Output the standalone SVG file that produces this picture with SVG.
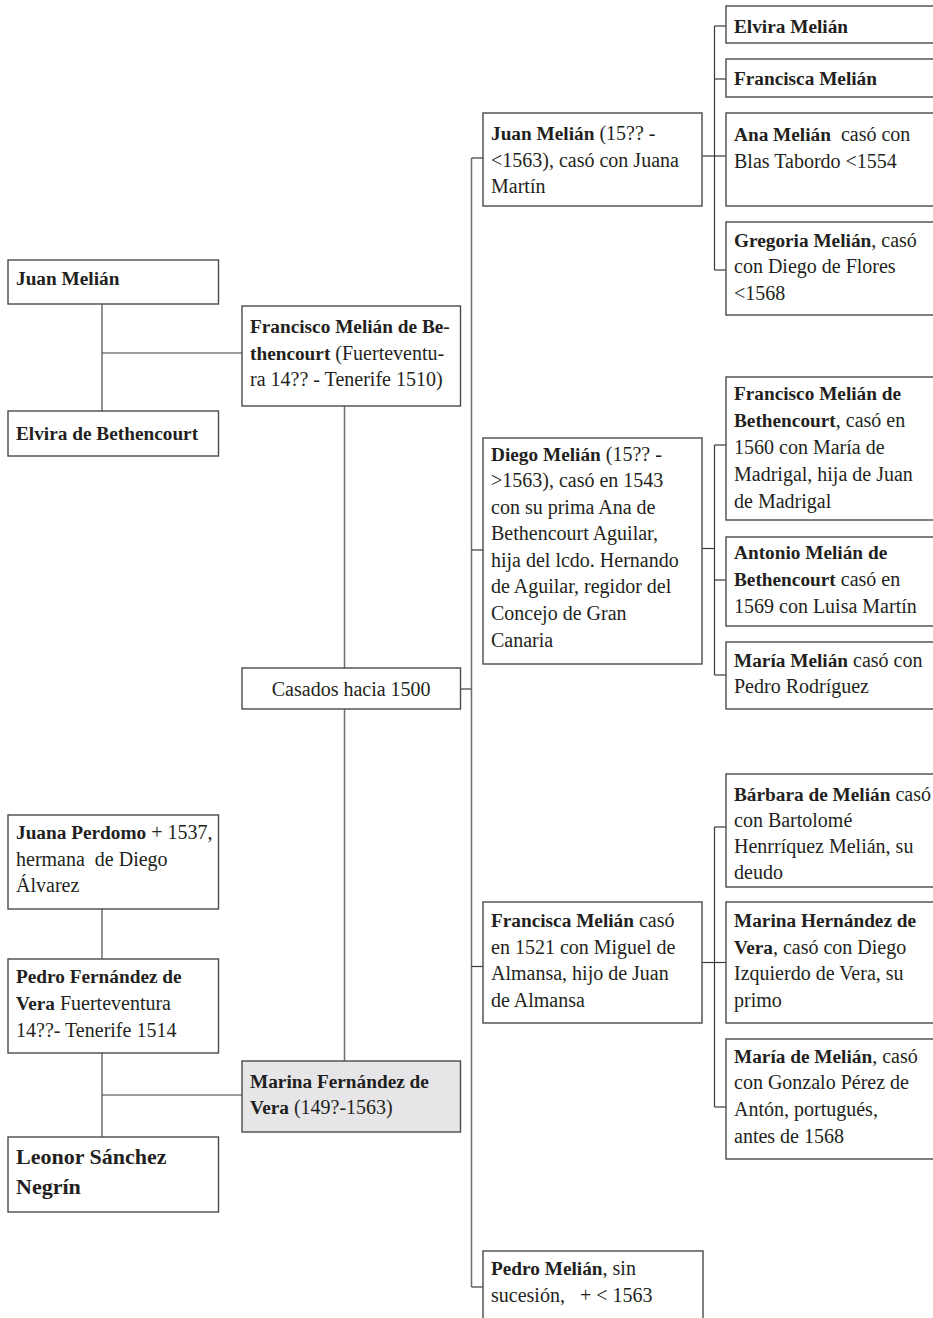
<svg xmlns="http://www.w3.org/2000/svg" width="933" height="1318" viewBox="0 0 933 1318">
<style>
text{font-family:"Liberation Serif","Times New Roman",serif;font-size:20px;fill:#231f20}
.b{font-weight:bold;font-size:19.3px}
.box{fill:#fff;stroke:#4a4a4a;stroke-width:1.4}
.grey{fill:#e6e6e8}
.v{stroke:#6e6e6e;stroke-width:1.5;fill:none}
.h{stroke:#3a3a3a;stroke-width:1.2;fill:none}
.pre{white-space:pre}
</style>
<g id="connectors">
<line class="v" x1="102" y1="304" x2="102" y2="411"/>
<line class="h" x1="102" y1="353" x2="242" y2="353"/>
<line class="v" x1="102" y1="909" x2="102" y2="959"/>
<line class="v" x1="102" y1="1053" x2="102" y2="1137"/>
<line class="h" x1="102" y1="1095" x2="242" y2="1095"/>
<line class="v" x1="344.5" y1="406" x2="344.5" y2="668"/>
<line class="v" x1="344.5" y1="709" x2="344.5" y2="1061"/>
<line class="h" x1="460.5" y1="689" x2="471.5" y2="689"/>
<line class="v" x1="471.5" y1="158" x2="471.5" y2="1287"/>
<line class="h" x1="471.5" y1="158" x2="483" y2="158"/>
<line class="h" x1="471.5" y1="550" x2="483" y2="550"/>
<line class="h" x1="471.5" y1="966.5" x2="483" y2="966.5"/>
<line class="h" x1="471.5" y1="1287" x2="483" y2="1287"/>
<line class="h" x1="714.5" y1="26" x2="714.5" y2="270"/>
<line class="h" x1="714.5" y1="26" x2="726" y2="26"/>
<line class="h" x1="714.5" y1="79" x2="726" y2="79"/>
<line class="h" x1="702" y1="156" x2="726" y2="156"/>
<line class="h" x1="714.5" y1="270" x2="726" y2="270"/>
<line class="h" x1="714.5" y1="445" x2="714.5" y2="675"/>
<line class="h" x1="714.5" y1="445" x2="726" y2="445"/>
<line class="h" x1="702" y1="548.5" x2="714.5" y2="548.5"/>
<line class="h" x1="714.5" y1="580" x2="726" y2="580"/>
<line class="h" x1="714.5" y1="675" x2="726" y2="675"/>
<line class="h" x1="714.5" y1="827" x2="714.5" y2="1107"/>
<line class="h" x1="714.5" y1="827" x2="726" y2="827"/>
<line class="h" x1="702" y1="962.5" x2="726" y2="962.5"/>
<line class="h" x1="714.5" y1="1107" x2="726" y2="1107"/>
</g>

<g id="n-juan-melian">
<rect class="box" x="8" y="260" width="210.5" height="44"/>
<text x="16" y="285"><tspan class="b">Juan Melián</tspan></text>
</g>
<g id="n-elvira-bethencourt">
<rect class="box" x="8" y="411" width="210.5" height="45"/>
<text x="16" y="440"><tspan class="b">Elvira de Bethencourt</tspan></text>
</g>
<g id="n-francisco-melian">
<rect class="box" x="242" y="306" width="218.5" height="100"/>
<text x="250" y="333"><tspan class="b">Francisco Melián de Be-</tspan></text>
<text x="250" y="360"><tspan class="b">thencourt</tspan> (Fuerteventu-</text>
<text x="250" y="386">ra 14?? - Tenerife 1510)</text>
</g>
<g id="n-casados">
<rect class="box" x="242" y="668" width="218.5" height="41"/>
<text x="351.2" y="696" text-anchor="middle">Casados hacia 1500</text>
</g>
<g id="n-juana-perdomo">
<rect class="box" x="8" y="815" width="210.5" height="94"/>
<text x="16" y="839"><tspan class="b">Juana Perdomo</tspan> + 1537,</text>
<text x="16" y="866" class="pre">hermana  de Diego</text>
<text x="16" y="892">Álvarez</text>
</g>
<g id="n-pedro-fernandez">
<rect class="box" x="8" y="959" width="210.5" height="94"/>
<text x="16" y="983"><tspan class="b">Pedro Fernández de</tspan></text>
<text x="16" y="1010"><tspan class="b">Vera</tspan> Fuerteventura</text>
<text x="16" y="1037">14??- Tenerife 1514</text>
</g>
<g id="n-marina-fernandez">
<rect class="box grey" x="242" y="1061" width="218.5" height="71"/>
<text x="250" y="1088"><tspan class="b">Marina Fernández de</tspan></text>
<text x="250" y="1114"><tspan class="b">Vera</tspan> (149?-1563)</text>
</g>
<g id="n-leonor">
<rect class="box" x="8" y="1137" width="210.5" height="75"/>
<text x="16" y="1164" style="font-weight:bold;font-size:22px">Leonor Sánchez</text>
<text x="16" y="1194" style="font-weight:bold;font-size:22px">Negrín</text>
</g>

<g id="n-juan-melian-hijo">
<rect class="box" x="483" y="113" width="219" height="93"/>
<text x="491" y="140"><tspan class="b">Juan Melián</tspan> (15?? -</text>
<text x="491" y="167">&lt;1563), casó con Juana</text>
<text x="491" y="193">Martín</text>
</g>
<g id="n-diego-melian">
<rect class="box" x="483" y="438" width="219" height="226"/>
<text x="491" y="461"><tspan class="b">Diego Melián</tspan> (15?? -</text>
<text x="491" y="487">&gt;1563), casó en 1543</text>
<text x="491" y="514">con su prima Ana de</text>
<text x="491" y="540">Bethencourt Aguilar,</text>
<text x="491" y="567">hija del lcdo. Hernando</text>
<text x="491" y="593">de Aguilar, regidor del</text>
<text x="491" y="620">Concejo de Gran</text>
<text x="491" y="647">Canaria</text>
</g>
<g id="n-francisca-melian">
<rect class="box" x="483" y="902" width="219" height="121"/>
<text x="491" y="927"><tspan class="b">Francisca Melián</tspan> casó</text>
<text x="491" y="954">en 1521 con Miguel de</text>
<text x="491" y="980">Almansa, hijo de Juan</text>
<text x="491" y="1007">de Almansa</text>
</g>
<g id="n-pedro-melian">
<rect class="box" x="483" y="1251" width="220" height="90"/>
<text x="491" y="1275"><tspan class="b">Pedro Melián</tspan>, sin</text>
<text x="491" y="1302" class="pre">sucesión,   + &lt; 1563</text>
</g>

<g id="n-elvira-melian">
<rect class="box" x="726" y="6" width="230" height="37"/>
<text x="734" y="33"><tspan class="b">Elvira Melián</tspan></text>
</g>
<g id="n-francisca-melian-2">
<rect class="box" x="726" y="59" width="230" height="38"/>
<text x="734" y="85"><tspan class="b">Francisca Melián</tspan></text>
</g>
<g id="n-ana-melian">
<rect class="box" x="726" y="113" width="230" height="93"/>
<text x="734" y="141" class="pre"><tspan class="b">Ana Melián</tspan>  casó con</text>
<text x="734" y="168">Blas Tabordo &lt;1554</text>
</g>
<g id="n-gregoria-melian">
<rect class="box" x="726" y="222" width="230" height="93"/>
<text x="734" y="247"><tspan class="b">Gregoria Melián</tspan>, casó</text>
<text x="734" y="273">con Diego de Flores</text>
<text x="734" y="300">&lt;1568</text>
</g>
<g id="n-francisco-melian-2">
<rect class="box" x="726" y="377" width="230" height="143"/>
<text x="734" y="400"><tspan class="b">Francisco Melián de</tspan></text>
<text x="734" y="427"><tspan class="b">Bethencourt</tspan>, casó en</text>
<text x="734" y="454">1560 con María de</text>
<text x="734" y="481">Madrigal, hija de Juan</text>
<text x="734" y="508">de Madrigal</text>
</g>
<g id="n-antonio-melian">
<rect class="box" x="726" y="537" width="230" height="89"/>
<text x="734" y="559"><tspan class="b">Antonio Melián de</tspan></text>
<text x="734" y="586"><tspan class="b">Bethencourt</tspan> casó en</text>
<text x="734" y="613">1569 con Luisa Martín</text>
</g>
<g id="n-maria-melian">
<rect class="box" x="726" y="642" width="230" height="67"/>
<text x="734" y="667"><tspan class="b">María Melián</tspan> casó con</text>
<text x="734" y="693">Pedro Rodríguez</text>
</g>
<g id="n-barbara-melian">
<rect class="box" x="726" y="774" width="230" height="113"/>
<text x="734" y="801"><tspan class="b">Bárbara de Melián</tspan> casó</text>
<text x="734" y="827">con Bartolomé</text>
<text x="734" y="853">Henrríquez Melián, su</text>
<text x="734" y="879">deudo</text>
</g>
<g id="n-marina-hernandez">
<rect class="box" x="726" y="902" width="230" height="121"/>
<text x="734" y="927"><tspan class="b">Marina Hernández de</tspan></text>
<text x="734" y="954"><tspan class="b">Vera</tspan>, casó con Diego</text>
<text x="734" y="980">Izquierdo de Vera, su</text>
<text x="734" y="1007">primo</text>
</g>
<g id="n-maria-de-melian">
<rect class="box" x="726" y="1039" width="230" height="120"/>
<text x="734" y="1063"><tspan class="b">María de Melián</tspan>, casó</text>
<text x="734" y="1089">con Gonzalo Pérez de</text>
<text x="734" y="1116">Antón, portugués,</text>
<text x="734" y="1143">antes de 1568</text>
</g>
</svg>
